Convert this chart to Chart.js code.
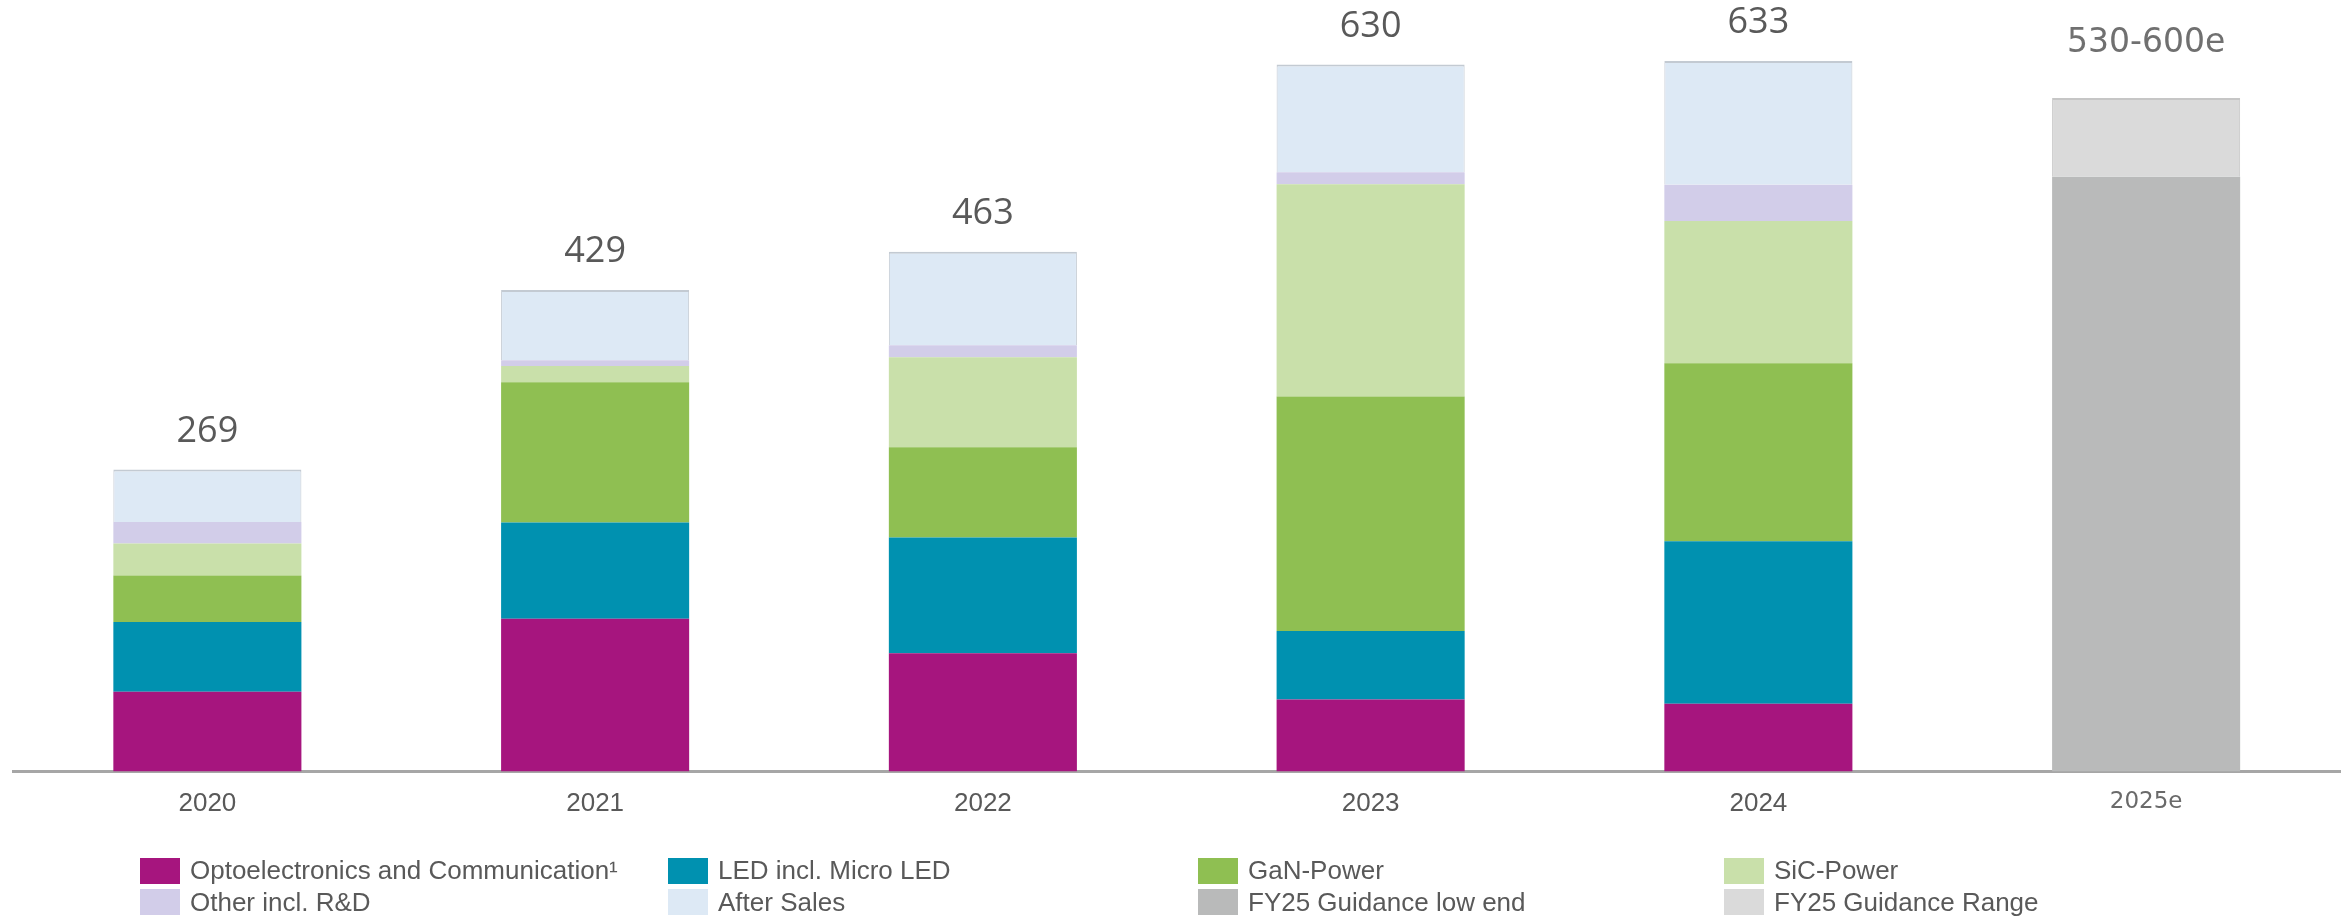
<!DOCTYPE html>
<html>
<head>
<meta charset="utf-8">
<title>Revenue by segment</title>
<script src="https://cdn.jsdelivr.net/npm/chart.js@4/dist/chart.umd.min.js"></script>
<style>
  html, body { margin: 0; padding: 0; background: #ffffff; }
  #wrap { position: relative; width: 2349px; height: 920px; overflow: hidden; }
  #chart { position: absolute; left: 0; top: 0; }
  #legend { position: absolute; left: 0; top: 0; width: 2349px; height: 920px; pointer-events: none; }
  .item { position: absolute; height: 26px; display: flex; align-items: center; white-space: nowrap;
          font-family: "Liberation Sans", Arial, sans-serif; font-size: 26px; color: #595959; }
  .swatch { width: 40px; height: 26px; margin-right: 10px; flex: none; }
</style>
</head>
<body>
<div id="wrap">
  <canvas id="chart" width="2349" height="920"></canvas>
  <div id="legend"></div>
</div>
<script>
// Years on the x axis
const years = ['2020', '2021', '2022', '2023', '2024', '2025e'];

// Revenue per segment (EUR m)
const opto        = [71.0, 136.0, 105.3,  64.1,  60.4, null];
const led         = [62.3,  85.8, 103.3,  61.0, 144.7, null];
const gan         = [41.3, 125.1,  80.2, 209.0, 158.7, null];
const sic         = [28.5,  14.3,  80.2, 189.1, 126.6, null];
const other       = [19.2,   5.3,  10.7,  10.7,  32.4, null];
const afterSales  = [46.7,  62.5,  83.3,  96.1, 110.2, null];

// FY25 guidance: low end plus the width of the range
const guidanceLow   = [null, null, null, null, null, 530];
const guidanceRange = [null, null, null, null, null, 70];

const seriesNames = [
  'Optoelectronics and Communication\u00B9', 'LED incl. Micro LED', 'GaN-Power', 'SiC-Power',
  'Other incl. R&D', 'After Sales', 'FY25 Guidance low end', 'FY25 Guidance Range'
];
const seriesValues = [opto, led, gan, sic, other, afterSales, guidanceLow, guidanceRange];
const seriesColors = ['#A6157E', '#0091B0', '#8FBF52', '#C9E0AA', '#D2CDE9', '#DDE9F5', '#B9BABA', '#DADADA'];

const datasets = seriesNames.map((name, i) => {
  const ds = {
    label: name,
    data: seriesValues[i],
    backgroundColor: seriesColors[i],
    borderWidth: 0,
    categoryPercentage: 1.0,
    barPercentage: 0.485
  };
  if (i === 5) {
    ds.borderColor = '#c3cad2';
    ds.borderWidth = { top: 2, left: 1, right: 1, bottom: 0 };
    ds.borderSkipped = false;
  }
  if (i === 7) {
    ds.borderColor = '#c6c6c6';
    ds.borderWidth = { top: 2, left: 1, right: 1, bottom: 0 };
    ds.borderSkipped = false;
  }
  return ds;
});

// Total above each stack; the guidance column shows its range
const totalsPlugin = {
  id: 'stackTotals',
  afterDatasetsDraw(chart) {
    const ctx = chart.ctx;
    ctx.save();
    ctx.textAlign = 'center';
    ctx.textBaseline = 'middle';
    years.forEach((year, idx) => {
      let topY = null, x = null, sum = 0;
      chart.data.datasets.forEach((ds, di) => {
        const v = ds.data[idx];
        if (v == null) return;
        sum += v;
        const el = chart.getDatasetMeta(di).data[idx];
        if (topY === null || el.y < topY) { topY = el.y; x = el.x; }
      });
      if (topY === null) return;
      if (guidanceLow[idx] != null) {
        const low = guidanceLow[idx];
        const high = low + guidanceRange[idx];
        ctx.font = '33px "DejaVu Sans"';
        ctx.fillStyle = '#707070';
        ctx.fillText(low + '-' + high + 'e', x, topY - 55);
      } else {
        ctx.font = '36px "Open Sans"';
        ctx.fillStyle = '#595959';
        ctx.fillText(String(Math.round(sum)), x, topY - 38);
      }
    });
    ctx.restore();
  }
};

const chart = new Chart(document.getElementById('chart'), {
  type: 'bar',
  data: { labels: years, datasets },
  options: {
    responsive: false,
    animation: false,
    devicePixelRatio: 1,
    layout: { padding: { top: 8.3, left: 13.5, right: 9, bottom: 0 } },
    plugins: { legend: { display: false }, tooltip: { enabled: false } },
    scales: {
      x: {
        stacked: true,
        grid: { display: false, drawTicks: false },
        border: { display: true, color: '#a6a6a6', width: 3 },
        ticks: {
          padding: 17,
          color: (c) => c.index === 5 ? '#6a6a6a' : '#595959',
          font: (c) => c.index === 5
            ? { family: 'DejaVu Sans', size: 23 }
            : { family: 'Liberation Sans', size: 26 }
        },
        afterFit(scale) { scale.height = 148.5; }
      },
      y: {
        stacked: true,
        display: false,
        min: 0,
        max: 680
      }
    }
  },
  plugins: [totalsPlugin]
});

// Legend in a four-column grid below the axis
const legendEl = document.getElementById('legend');
const colX = [140, 668, 1198, 1724];
const rowY = [857.7, 889.3];
chart.data.datasets.forEach((ds, i) => {
  const item = document.createElement('div');
  item.className = 'item';
  item.style.left = colX[i % 4] + 'px';
  item.style.top = rowY[Math.floor(i / 4)] + 'px';
  const sw = document.createElement('span');
  sw.className = 'swatch';
  sw.style.background = ds.backgroundColor;
  const tx = document.createElement('span');
  tx.textContent = ds.label;
  item.appendChild(sw);
  item.appendChild(tx);
  legendEl.appendChild(item);
});
</script>
</body>
</html>
